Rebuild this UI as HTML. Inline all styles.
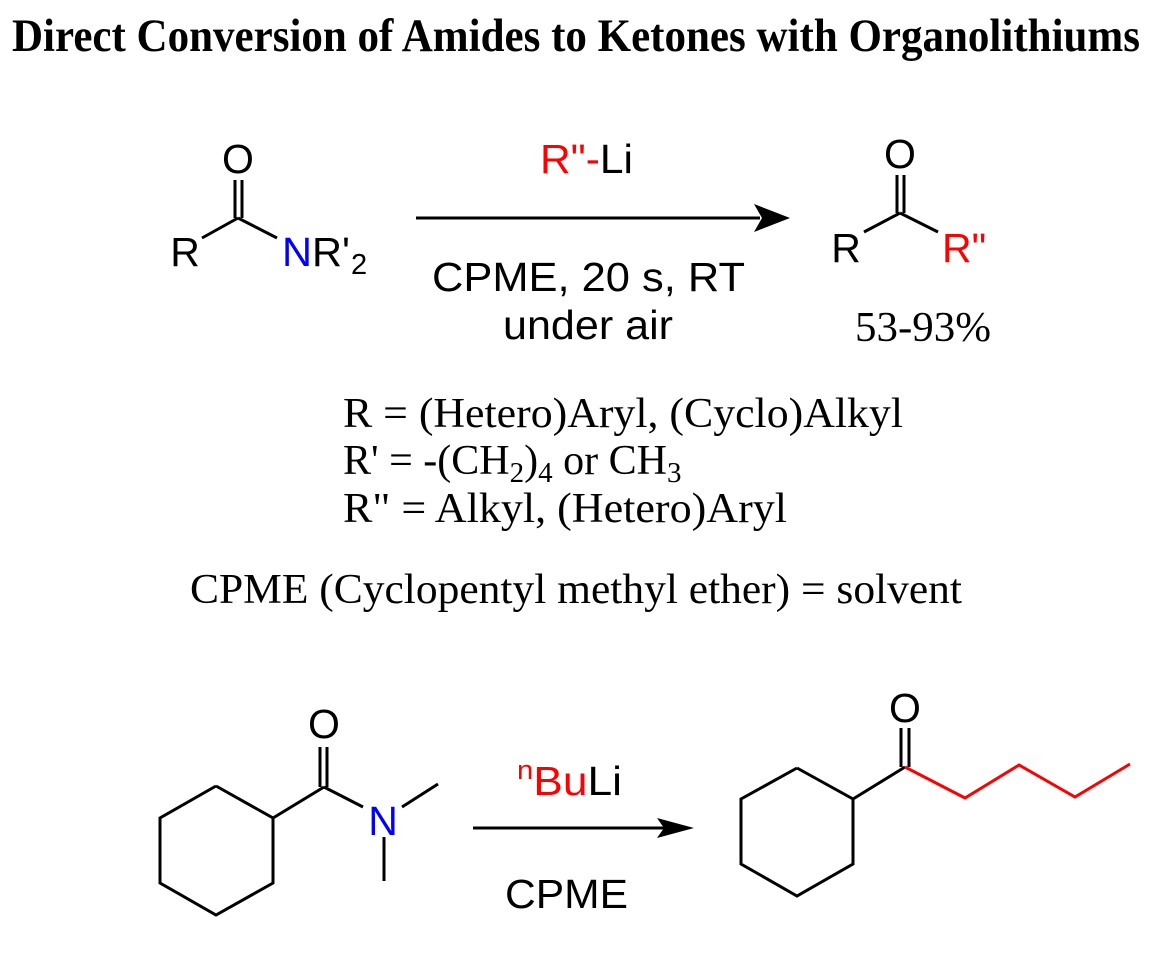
<!DOCTYPE html>
<html><head><meta charset="utf-8"><style>
html,body{margin:0;padding:0;background:#fff;}
svg{display:block;}
.a{font-family:"Liberation Sans",Arial,sans-serif;}
.t{font-family:"Liberation Serif","Times New Roman",serif;}
</style></head><body>
<svg width="1176" height="953" viewBox="0 0 1176 953" xmlns="http://www.w3.org/2000/svg">
<rect width="1176" height="953" fill="#fff"/>
<text x="12" y="51" class="t" font-weight="bold" font-size="47" textLength="1128" lengthAdjust="spacingAndGlyphs">Direct Conversion of Amides to Ketones with Organolithiums</text>

<g stroke="#000" stroke-width="3" fill="none" stroke-linecap="butt">
<line x1="202" y1="238" x2="238" y2="218"/>
<line x1="238" y1="218" x2="277" y2="238"/>
<line x1="235" y1="180" x2="235" y2="218"/>
<line x1="242" y1="180" x2="242" y2="218"/>
<line x1="864" y1="232" x2="900" y2="213"/>
<line x1="900" y1="213" x2="938" y2="232"/>
<line x1="897" y1="175" x2="897" y2="213"/>
<line x1="904" y1="175" x2="904" y2="213"/>
<line x1="416" y1="218" x2="760" y2="218"/>
<polyline points="216,786 273,818 273,883 216,915 160,883 160,818 216,786"/>
<line x1="273" y1="818" x2="324" y2="787"/>
<line x1="320" y1="747" x2="320" y2="787"/>
<line x1="327" y1="747" x2="327" y2="787"/>
<line x1="324" y1="787" x2="363" y2="807"/>
<line x1="402" y1="807" x2="438" y2="784"/>
<line x1="384" y1="837" x2="384" y2="881"/>
<line x1="473" y1="828" x2="670" y2="828"/>
<polyline points="797,768 853,799 853,864 797,896 741,864 741,799 797,768"/>
<line x1="853" y1="799" x2="905" y2="767"/>
<line x1="901" y1="728" x2="901" y2="767"/>
<line x1="909" y1="728" x2="909" y2="767"/>
</g>
<polyline points="905,767 965,798 1019,765 1075,797 1130,764" stroke="#f00" stroke-width="3" fill="none"/>
<polygon points="790,218 754,204 762,218 754,232" fill="#000"/>
<polygon points="694,828 657,818 664,828 657,838" fill="#000"/>

<g class="a" font-size="41" fill="#000">
<text x="238" y="173" text-anchor="middle">O</text>
<text x="185" y="266" text-anchor="middle">R</text>
<text x="282" y="266" textLength="68" lengthAdjust="spacingAndGlyphs"><tspan fill="#0000ff">N</tspan>R'</text>
<text x="351" y="274" font-size="29">2</text>
<text x="900" y="168" text-anchor="middle">O</text>
<text x="846" y="262" text-anchor="middle">R</text>
<text x="942" y="262" fill="#f00">R"</text>
<text x="540" y="173" textLength="93" lengthAdjust="spacingAndGlyphs"><tspan fill="#f00">R"-</tspan>Li</text>
<text x="432" y="291" textLength="313" lengthAdjust="spacingAndGlyphs">CPME, 20 s, RT</text>
<text x="503" y="339" textLength="170" lengthAdjust="spacingAndGlyphs">under air</text>
<text x="324" y="738" text-anchor="middle">O</text>
<text x="383" y="835" text-anchor="middle" fill="#0000ff">N</text>
<text x="905" y="722" text-anchor="middle">O</text>
<text x="517" y="795" fill="#f00" textLength="105" lengthAdjust="spacingAndGlyphs"><tspan font-size="27" dy="-16">n</tspan><tspan dy="16">Bu</tspan><tspan fill="#000">Li</tspan></text>
<text x="505" y="908" textLength="123" lengthAdjust="spacingAndGlyphs">CPME</text>
</g>
<g class="t" font-size="42" fill="#000">
<text x="855" y="341" textLength="136" lengthAdjust="spacingAndGlyphs">53-93%</text>
<text x="343" y="427" textLength="560" lengthAdjust="spacingAndGlyphs">R = (Hetero)Aryl, (Cyclo)Alkyl</text>
<text x="343" y="474">R' = -(CH<tspan font-size="29" dy="8">2</tspan><tspan dy="-8">)</tspan><tspan font-size="29" dy="8">4</tspan><tspan dy="-8"> or CH</tspan><tspan font-size="29" dy="8">3</tspan></text>
<text x="343" y="522" textLength="444" lengthAdjust="spacingAndGlyphs">R" = Alkyl, (Hetero)Aryl</text>
<text x="190" y="603" textLength="772" lengthAdjust="spacingAndGlyphs">CPME (Cyclopentyl methyl ether) = solvent</text>
</g>
</svg>
</body></html>
